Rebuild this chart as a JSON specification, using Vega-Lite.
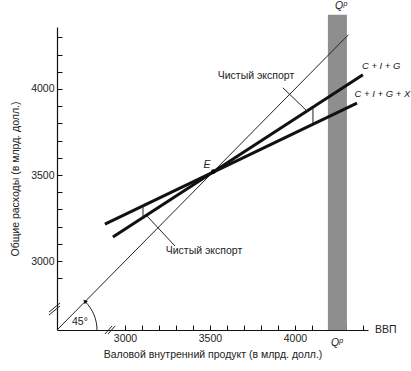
{
  "$schema": "https://vega.github.io/schema/vega-lite/v6.json",
  "width": 311,
  "height": 303,
  "autosize": {"type": "none"},
  "padding": {"left": 57, "top": 27, "right": 43, "bottom": 41},
  "background": "white",
  "config": {
    "view": {"stroke": null},
    "font": "Liberation Sans",
    "axis": {
      "grid": false,
      "domainColor": "#111",
      "domainWidth": 1.2,
      "tickColor": "#111",
      "tickWidth": 1,
      "tickSize": -5,
      "labelFontSize": 10.5,
      "labelColor": "#222",
      "titleFontSize": 10.5,
      "titleFontWeight": "normal",
      "titleColor": "#222",
      "labelFlush": false,
      "labelOverlap": false
    }
  },
  "encoding": {
    "x": {
      "field": "x",
      "type": "quantitative",
      "scale": {"domain": [2600, 4430], "nice": false, "zero": false},
      "axis": {
        "title": "Валовой внутренний продукт (в млрд. долл.)",
        "values": [3000, 3100, 3200, 3300, 3400, 3500, 3600, 3700, 3800, 3900, 4000, 4100, 4200, 4300, 4400],
        "labelExpr": "datum.value % 500 === 0 ? format(datum.value, 'd') : ''",
        "labelPadding": 8,
        "titlePadding": 6
      }
    },
    "y": {
      "field": "y",
      "type": "quantitative",
      "scale": {"domain": [2600, 4360], "nice": false, "zero": false},
      "axis": {
        "title": "Общие расходы (в млрд. долл.)",
        "values": [2900, 3000, 3100, 3200, 3300, 3400, 3500, 3600, 3700, 3800, 3900, 4000, 4100, 4200, 4300],
        "labelExpr": "datum.value % 500 === 0 ? format(datum.value, 'd') : ''",
        "labelPadding": 8,
        "titlePadding": 10
      }
    }
  },
  "layer": [
    {
      "data": {"values": [{"x": 4194, "x2": 4306, "y": 2600, "y2": 4431}]},
      "mark": {"type": "rect", "color": "#8e8e8e"},
      "encoding": {"x2": {"field": "x2"}, "y2": {"field": "y2"}}
    },
    {
      "data": {"values": [{"x": 2600, "y": 2600}, {"x": 4315, "y": 4315}]},
      "mark": {"type": "line", "color": "#222", "strokeWidth": 1}
    },
    {
      "data": {"values": [
        {"series": "C+I+G", "x": 2929, "y": 3140},
        {"series": "C+I+G", "x": 4400, "y": 4082},
        {"series": "C+I+G+X", "x": 2882, "y": 3215},
        {"series": "C+I+G+X", "x": 4365, "y": 3918}
      ]},
      "mark": {"type": "line", "color": "#111", "strokeWidth": 3},
      "encoding": {"detail": {"field": "series"}}
    },
    {
      "data": {"values": [
        {"x": 3929, "y": 4007, "x2": 4076, "y2": 3867, "w": "pointer"},
        {"x": 3129, "y": 3263, "x2": 3294, "y2": 3088, "w": "pointer"},
        {"x": 4106, "y": 3888, "x2": 4106, "y2": 3800, "w": "gap"},
        {"x": 3106, "y": 3250, "x2": 3106, "y2": 3325, "w": "gap"},
        {"x": 2882, "y": 2577, "x2": 2924, "y2": 2623, "w": "break"},
        {"x": 2900, "y": 2577, "x2": 2942, "y2": 2623, "w": "break"},
        {"x": 2553, "y": 2687, "x2": 2618, "y2": 2740, "w": "break"},
        {"x": 2553, "y": 2704, "x2": 2618, "y2": 2757, "w": "break"}
      ]},
      "mark": {"type": "rule", "color": "#222", "strokeWidth": 1},
      "encoding": {"x2": {"field": "x2"}, "y2": {"field": "y2"}}
    },
    {
      "data": {"values": [{"x": 2766.4, "y": 2764.3, "k": "arc45"}]},
      "mark": {"type": "point", "shape": "M11.716,28.284L11.523,24.363L10.948,20.48L9.994,16.673L8.671,12.977L6.993,9.428L4.975,6.061L2.636,2.908L0,0", "size": 4, "color": "#222", "strokeWidth": 1, "opacity": 1}
    },
    {
      "data": {"values": [{"x": 2764, "y": 2767}]},
      "mark": {"type": "point", "shape": "triangle-up", "angle": -45, "filled": true, "color": "#111", "size": 22, "opacity": 1}
    },
    {
      "data": {"values": [{"x": 3520, "y": 3520}]},
      "mark": {"type": "point", "filled": true, "color": "#000", "size": 22, "opacity": 1}
    },
    {
      "data": {"values": [
        {"x": 3771, "y": 4077, "text": "Чистый экспорт"},
        {"x": 3465, "y": 3059, "text": "Чистый экспорт"},
        {"x": 2735, "y": 2646, "text": "45°"}
      ]},
      "mark": {"type": "text", "fontSize": 10.5, "color": "#222", "align": "center", "baseline": "middle"},
      "encoding": {"text": {"field": "text"}}
    },
    {
      "data": {"values": [
        {"x": 4394, "y": 4135, "text": "C + I + G"},
        {"x": 4351, "y": 3972, "text": "C + I + G + X"}
      ]},
      "mark": {"type": "text", "fontSize": 9.5, "fontStyle": "italic", "color": "#222", "align": "left", "baseline": "middle"},
      "encoding": {"text": {"field": "text"}}
    },
    {
      "data": {"values": [
        {"x": 3482, "y": 3559, "text": "E"},
        {"x": 4271, "y": 4484, "text": "Qᵖ"},
        {"x": 4247, "y": 2524, "text": "Qᵖ"}
      ]},
      "mark": {"type": "text", "fontSize": 10.5, "fontStyle": "italic", "color": "#222", "align": "center", "baseline": "middle"},
      "encoding": {"text": {"field": "text"}}
    },
    {
      "data": {"values": [{"x": 4471, "y": 2600, "text": "ВВП"}]},
      "mark": {"type": "text", "fontSize": 10.5, "color": "#222", "align": "left", "baseline": "middle"},
      "encoding": {"text": {"field": "text"}}
    }
  ]
}
